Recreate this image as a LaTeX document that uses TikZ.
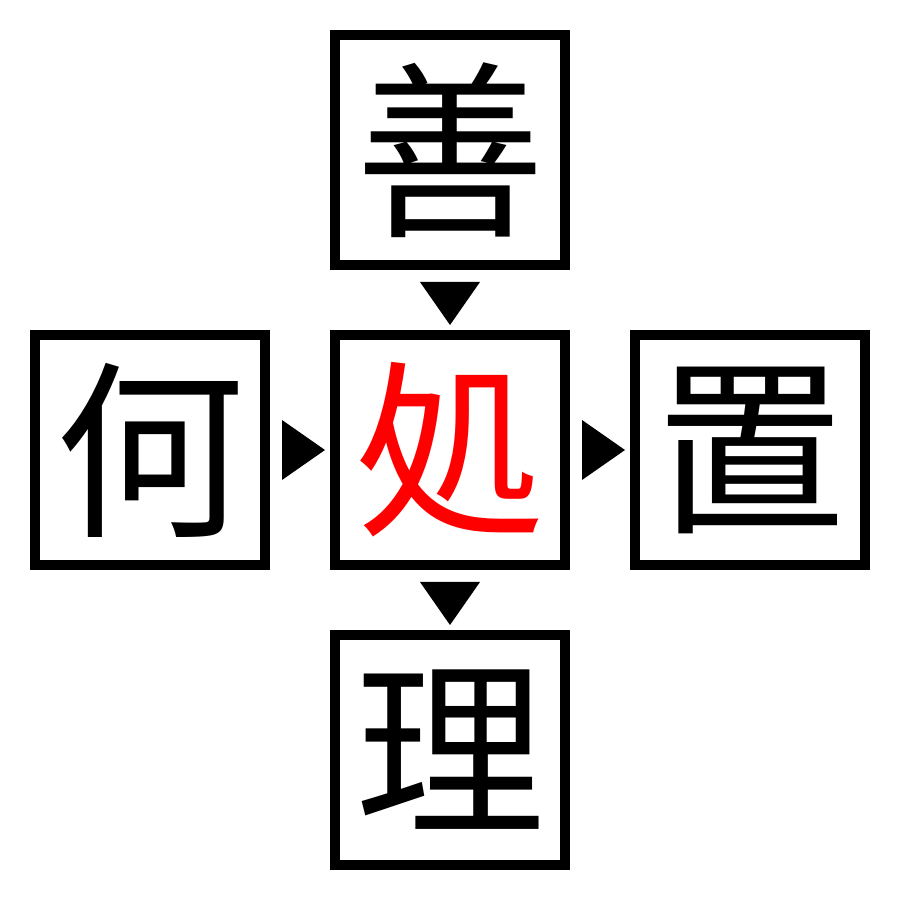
\documentclass[tikz,border=0pt]{standalone}
\usepackage{fontspec}
\newfontfamily\jpfont{Noto Sans CJK JP}
\usetikzlibrary{positioning}
\usetikzlibrary{calc}

\begin{document}
\begin{tikzpicture}[
        kanji/.style={draw, line width=1mm, minimum size=2.3cm, inner sep=0pt,
            font=\jpfont\fontsize{54}{54}\selectfont},
        node distance=0.6cm
    ]
        \useasboundingbox (0,0) rectangle (9,9);

        \node[kanji, text=red] (sho) at (4.5,4.5) {処};
        \node[kanji, above=of sho] (shan) {善};
        \node[kanji, left=of sho] (ka) {何};
        \node[kanji, right=of sho] (chi) {置};
        \node[kanji, below=of sho] (ri) {理};

        \fill ($(shan.south)!0.5!(sho.north)$) ++(-0.3,0.18) -- ++(0.6,0) -- ++(-0.3,-0.43) -- cycle;
        \fill ($(sho.south)!0.5!(ri.north)$) ++(-0.3,0.18) -- ++(0.6,0) -- ++(-0.3,-0.43) -- cycle;
        \fill ($(ka.east)!0.5!(sho.west)$) ++(-0.18,0.3) -- ++(0,-0.6) -- ++(0.43,0.3) -- cycle;
        \fill ($(sho.east)!0.5!(chi.west)$) ++(-0.18,0.3) -- ++(0,-0.6) -- ++(0.43,0.3) -- cycle;
    \end{tikzpicture}
\end{document}
